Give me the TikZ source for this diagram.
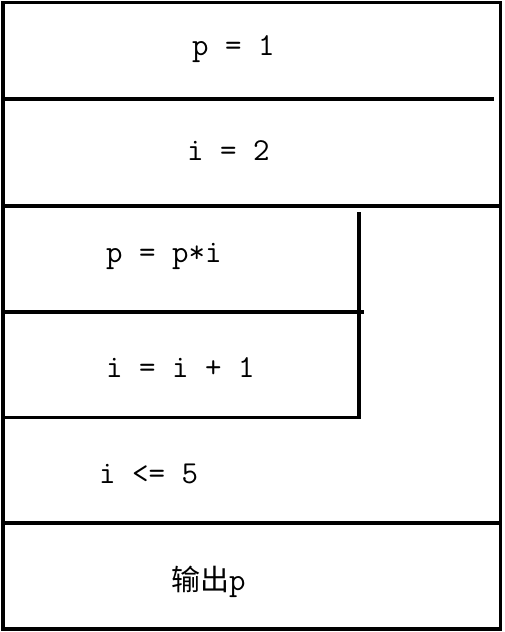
\documentclass[tikz,border=0pt]{standalone}
\usepackage{fontspec}
\newfontfamily\cjkfont{Noto Sans CJK SC}
\begin{document}
\begin{tikzpicture}[x=1pt,y=-1pt,
  rule/.style={line width=3.4pt,line cap=butt},
  lbl/.style={anchor=base west,inner sep=0pt,font=\fontsize{32}{34}\selectfont\ttfamily}]
\useasboundingbox (0,0) rectangle (504,632);
% outer frame
\draw[rule] (3,2.5) rectangle (500.5,629);
% separators
\draw[rule] (3,99) -- (494,99);
\draw[rule] (3,206) -- (500,206);
\draw[rule] (3,312) -- (364,312);
\draw[rule] (3,417.5) -- (359,417.5);
\draw[rule] (359,212) -- (359,419.2);
\draw[rule] (3,523) -- (500,523);
% texts
\node[lbl] (t1) at (192,55) {p = 1};
\node[lbl] (t2) at (187,160) {i = 2};
\node[lbl] (t3) at (106,262) {p = p*i};
\node[lbl] (t4) at (106,377) {i = i + 1};
\node[lbl] (t5) at (99,483) {i <= 5};
\node[lbl] (t6) at (171,590) {{\cjkfont\fontsize{29}{31}\selectfont 输出}p};
\end{tikzpicture}
\end{document}
